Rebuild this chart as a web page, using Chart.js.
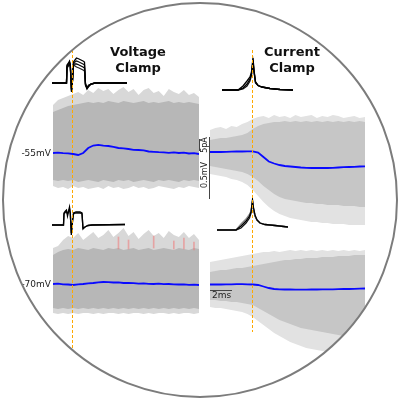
<!DOCTYPE html>
<html>
<head>
<meta charset="utf-8">
<script src="https://cdn.jsdelivr.net/npm/chart.js@4"></script>
<style>
  body { margin: 0; background: #fff; }
  #fig { position: absolute; left: 0; top: 0; width: 400px; height: 400px;
         clip-path: circle(197px at 200px 200px);
         font-family: "DejaVu Sans", sans-serif; color: #222; }
  #fig canvas, #fig .txt, #fig .bar { position: absolute; }
  #ring { position: absolute; left: 2px; top: 2px; width: 396px; height: 396px;
          box-sizing: border-box; border: 2px solid #7c7c7c; border-radius: 50%; }
  .title { font-weight: bold; font-size: 13px; line-height: 16px; text-align: center; color: #111; width: 100px; }
  .small { font-size: 9px; line-height: 12px; white-space: nowrap; }
  .rot { font-size: 8px; line-height: 10px; white-space: nowrap; transform: translate(-50%, -50%) rotate(-90deg); }
  .bar { background: #444; }
  .onset { position: absolute; z-index: 5; width: 1px;
           background-image: repeating-linear-gradient(180deg, rgb(255,170,0) 0px, rgb(255,170,0) 3px, rgba(255,255,255,0) 3px, rgba(255,255,255,0) 5px); }
</style>
</head>
<body>
<div id="fig">
  <canvas id="vc55" width="146" height="115" style="left:53px;top:80px"></canvas>
  <canvas id="vc70" width="146" height="98" style="left:53px;top:222px"></canvas>
  <canvas id="ccTop" width="155" height="120" style="left:210px;top:110px"></canvas>
  <canvas id="ccBot" width="155" height="125" style="left:210px;top:240px"></canvas>

  <canvas id="vcCmdTop" width="76" height="45" style="left:52px;top:50px"></canvas>
  <canvas id="vcCmdBot" width="76" height="45" style="left:52px;top:198px"></canvas>
  <canvas id="ccApTop" width="85" height="42" style="left:215px;top:52px"></canvas>
  <canvas id="ccApBot" width="85" height="40" style="left:212px;top:195px"></canvas>

  <div class="onset" style="left:72px;top:40px;height:360px"></div>
  <div class="onset" style="left:252px;top:50px;height:282px"></div>

  <div class="txt title" style="left:88px;top:44px">Voltage<br>Clamp</div>
  <div class="txt title" style="left:242px;top:44px">Current<br>Clamp</div>

  <div class="txt small" style="left:0;width:51px;text-align:right;top:147px">-55mV</div>
  <div class="txt small" style="left:0;width:51px;text-align:right;top:278px">-70mV</div>

  <div class="bar" style="left:199px;top:139px;width:1px;height:12px"></div>
  <div class="bar" style="left:209px;top:137px;width:1px;height:62px"></div>
  <div class="txt rot" style="left:205px;top:145px">5pA</div>
  <div class="txt rot" style="left:205px;top:175px">0.5mV</div>

  <div class="bar" style="left:210px;top:290px;width:22px;height:1px"></div>
  <div class="txt small" style="left:212px;top:289px">2ms</div>
</div>
<div id="ring"></div>

<script>
var traceSamples = [0,1,2,3,4,5,6,7,8,9,10,11,12,13,14,15,16,17,18,19,20,21,22,23,24,25,26,27,28,29];

// voltage clamp, held at -55mV (values relative to holding level)
var vc55Mean    = [0,0.3,-0.2,-0.3,-1,-2,0,5,7.5,8.2,7.3,7,6.2,5,4.7,4,3.2,3,2.6,1.5,1.2,0.8,0.6,0.2,0.6,0,0.3,-0.5,-0.2,-1];
var vc55OuterHi = [48,53,55,57,59,61,58,63,60,65,62,64,59,63,66,61,64,58,63,65,60,62,57,64,61,59,63,58,60,56];
var vc55CoreHi  = [41,43,45,47,48,49,50,51,50,51,50,52,51,50,52,51,50,51,52,50,51,50,51,52,50,51,50,51,50,49];
var vc55CoreLo  = [-27,-28,-27,-28,-27,-29,-28,-27,-28,-29,-27,-28,-29,-27,-28,-27,-29,-28,-27,-28,-29,-27,-28,-27,-28,-29,-27,-28,-27,-28];
var vc55OuterLo = [-33,-35,-34,-36,-33,-35,-34,-36,-35,-34,-36,-33,-35,-34,-36,-35,-33,-35,-34,-36,-35,-33,-34,-35,-36,-34,-35,-33,-34,-35];

// voltage clamp, held at -70mV
var vc70Mean    = [0,0.3,-0.3,-0.5,-1,-0.3,0,0.6,1,1.6,2,1.8,1.5,1.7,1,1.2,0.8,0.4,0.6,0.2,0,0.3,-0.2,0,-0.3,-0.5,-0.3,-0.8,-0.6,-1];
var vc70OuterHi = [36,38,44,48,46,51,44,48,52,46,49,54,47,51,56,48,52,45,50,54,48,51,46,53,49,47,52,46,50,44];
var vc70CoreHi  = [29,32,34,35,34,36,35,34,36,35,34,36,35,36,34,35,36,34,35,36,34,35,36,35,34,36,35,34,36,35];
var vc70CoreLo  = [-24,-25,-24,-25,-24,-25,-24,-25,-24,-25,-24,-25,-24,-25,-24,-25,-24,-25,-24,-25,-24,-25,-24,-25,-24,-25,-24,-25,-24,-25];
var vc70OuterLo = [-29,-30,-29,-30,-29,-30,-29,-29,-30,-29,-30,-29,-29,-30,-29,-30,-29,-29,-30,-29,-30,-29,-29,-30,-29,-30,-29,-29,-30,-29];
var vc70Outliers = [null,null,null,null,null,null,null,null,null,null,null,null,null,[35,47],null,[35,44],null,null,null,null,[36,48],null,null,null,[35,43],null,[35,46],null,[34,42],null];

// current clamp, upper and lower rows
var ccTopMean    = [0,0,0,0.2,0.3,0.5,0.5,0.7,0.7,-0.5,-5,-9.5,-11.5,-13,-14,-14.5,-15,-15.5,-15.8,-16,-16,-16,-16,-15.8,-15.5,-15.2,-15,-14.8,-14.5,-14.3];
var ccTopOuterHi = [22,24,25,23,26,25,28,30,33,35,36,34,37,35,36,34,37,35,36,37,34,36,35,37,36,34,35,36,34,35];
var ccTopCoreHi  = [12,13,14,14,15,16,17,19,23,26,28,29,30,30,31,30,31,30,31,30,31,30,31,30,31,30,31,30,31,30];
var ccTopCoreLo  = [-14,-15,-16,-17,-18,-19,-20,-22,-25,-29,-34,-38,-42,-45,-47,-48,-49,-50,-51,-51,-52,-52,-53,-53,-53,-54,-54,-54,-55,-55];
var ccTopOuterLo = [-22,-23,-24,-25,-27,-28,-30,-33,-38,-44,-50,-55,-59,-62,-64,-66,-67,-68,-69,-70,-70,-71,-71,-72,-72,-72,-73,-73,-73,-73];

var ccBotMean    = [1.5,1.5,1.5,1.7,1.7,1.8,1.8,1.7,1.5,1,-0.5,-2,-3,-3.3,-3.5,-3.5,-3.6,-3.6,-3.6,-3.5,-3.5,-3.4,-3.4,-3.3,-3.2,-3,-3,-2.8,-2.7,-2.5];
var ccBotOuterHi = [24,25,26,27,28,29,30,31,32,33,34,34,35,34,35,36,35,36,35,36,35,36,35,36,35,36,35,36,35,36];
var ccBotCoreHi  = [14,15,16,16,17,18,18,19,20,21,22,23,24,25,26,26,27,27,28,28,28,29,29,29,30,30,30,31,31,31];
var ccBotCoreLo  = [-14,-14,-15,-15,-16,-16,-17,-18,-19,-22,-25,-28,-31,-34,-36,-38,-40,-42,-43,-44,-45,-46,-47,-48,-49,-50,-50,-51,-51,-52];
var ccBotOuterLo = [-21,-22,-22,-23,-24,-25,-26,-28,-31,-35,-39,-43,-47,-50,-53,-56,-58,-60,-62,-63,-64,-65,-66,-67,-68,-69,-69,-70,-70,-70];

// inset waveforms (command steps and action potentials)
var vcCmdTopX = [0,14.5,15,16.5,17.5,18.3,19.5,20.5,21.5,23,24.5,27,29,31,32.5,33.5,35,37,39,43,75];
var vcCmdTopA = [0,0,18,20,22,19,-9,3,21,23,25,24,23,22,21,-2,-6,-3,-1,0,0];
var vcCmdTopB = [0,0,17,19,21,18,-8,3,20,21,22,21,20,19,18,-2,-5,-3,-1,0,0];
var vcCmdTopC = [0,0,16,18,20,17,-7,2,19,19,19,18,17,16,15,-1,-5,-2,-1,0,0];
var vcCmdTopD = [0,0,15,17,19,16,-6,2,18,17,16,15,14,13,12,-1,-4,-2,-1,0,0];

var vcCmdBotX = [0,11.5,12,13.5,14.5,15.5,17.5,18.3,19.3,20.5,21.5,24,28,30,31,33,36,40,73];
var vcCmdBotA = [0,0,12,14,15,9,18,12,-10,3,12,13,13,12,-4,-2,-0.5,0,0.5];
var vcCmdBotB = [0,0,11,13,13,11,16,11,-8,4,11,12,12,11,-3,-2,-0.5,0,0.5];

var ccApTopX = [7,23,28,32,35,36.5,38,39,40.5,43,47,55,65,78];
var ccApTopA = [0,0,4,9,13,18,32,20,8,4.5,3,1.5,0.5,0];
var ccApTopB = [0,0,2,6,11,16,30,19,8,4.5,3,1.5,0.5,0];
var ccApTopC = [0,0,1,4,9,15,28,18,7,4.5,3,1.5,0.5,0];

var ccApBotX = [5,24,29,34,37.5,39,40.5,41.5,43,45,48,53,63,76];
var ccApBotA = [0,0,4,9,14,18,30,22,15,10,7,5.5,4.5,3];
var ccApBotB = [0,0,6,11,16,19,28,21,14,10,7,5.5,4.5,3];
var ccApBotC = [0,0,2,7,12,17,29,21,14,10,7,5.5,4.5,3];

var BLUE = '#0a0aff';

// chart.js paints higher "order" first, so the light band sits underneath
function band(data, color, fill, order) {
    return { type: 'line', data: data, borderColor: 'rgba(0,0,0,0)', borderWidth: 0,
             backgroundColor: color, fill: fill, pointRadius: 0, order: order };
}

function traceChart(id, mean, outerHi, outerLo, coreHi, coreLo, yMin, yMax, colors, outliers) {
    var datasets = [
        band(outerHi, colors[0], '+1', 4),
        band(outerLo, colors[0], false, 4),
        band(coreHi, colors[1], '+1', 3),
        band(coreLo, colors[1], false, 3)
    ];
    if (outliers) {
        datasets.push({ type: 'bar', data: outliers, backgroundColor: 'rgba(240,120,120,0.55)',
                        barThickness: 1, order: 2 });
    }
    datasets.push({ type: 'line', data: mean, borderColor: BLUE, borderWidth: 1.8,
                    pointRadius: 0, fill: false, order: 0 });
    return new Chart(document.getElementById(id), {
        type: 'line',
        data: { labels: traceSamples, datasets: datasets },
        options: {
            responsive: false,
            animation: false,
            events: [],
            layout: { padding: 0 },
            plugins: { legend: { display: false }, tooltip: { enabled: false } },
            scales: {
                x: { display: false, offset: false },
                y: { display: false, min: yMin, max: yMax }
            }
        }
    });
}

function insetChart(id, xs, traces, colors, xMax, yMin, yMax) {
    var datasets = traces.map(function (tr, k) {
        return {
            data: xs.map(function (x, i) { return { x: x, y: tr[i] }; }),
            borderColor: colors[k],
            borderWidth: 1.3,
            pointRadius: 0,
            fill: false
        };
    });
    return new Chart(document.getElementById(id), {
        type: 'line',
        data: { datasets: datasets },
        options: {
            responsive: false,
            animation: false,
            events: [],
            layout: { padding: 0 },
            plugins: { legend: { display: false }, tooltip: { enabled: false } },
            scales: {
                x: { type: 'linear', display: false, min: 0, max: xMax },
                y: { display: false, min: yMin, max: yMax }
            }
        }
    });
}

var vcShades = ['#d8d8d8', '#b7b7b7'];
var ccShades = ['#e2e2e2', '#c6c6c6'];

traceChart('vc55', vc55Mean, vc55OuterHi, vc55OuterLo, vc55CoreHi, vc55CoreLo, -42, 73, vcShades);
traceChart('vc70', vc70Mean, vc70OuterHi, vc70OuterLo, vc70CoreHi, vc70CoreLo, -36, 62, vcShades, vc70Outliers);
traceChart('ccTop', ccTopMean, ccTopOuterHi, ccTopOuterLo, ccTopCoreHi, ccTopCoreLo, -78, 42, ccShades);
traceChart('ccBot', ccBotMean, ccBotOuterHi, ccBotOuterLo, ccBotCoreHi, ccBotCoreLo, -79, 46, ccShades);

insetChart('vcCmdTop', vcCmdTopX, [vcCmdTopA, vcCmdTopB, vcCmdTopC, vcCmdTopD],
           ['#000', '#111', '#000', '#222'], 76, -12, 33);
insetChart('vcCmdBot', vcCmdBotX, [vcCmdBotA, vcCmdBotB], ['#000', '#111'], 76, -18, 27);
insetChart('ccApTop', ccApTopX, [ccApTopA, ccApTopB, ccApTopC], ['#000', '#000', '#111'], 85, -4, 38);
insetChart('ccApBot', ccApBotX, [ccApBotA, ccApBotB, ccApBotC], ['#000', '#888', '#111'], 85, -5, 35);
</script>
</body>
</html>
